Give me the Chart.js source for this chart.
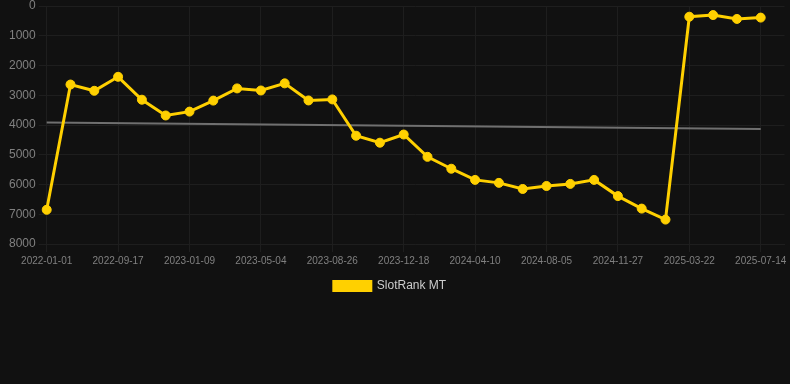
<!DOCTYPE html>
<html>
<head>
<meta charset="utf-8">
<script src="https://cdn.jsdelivr.net/npm/chart.js@4/dist/chart.umd.min.js"></script>
<style>
  html, body { margin: 0; padding: 0; background: #111111; }
  #wrap { position: relative; width: 790px; height: 302px; }
</style>
</head>
<body>
<div id="wrap"><canvas id="c"></canvas></div>
<script>
const categories = [
  "2022-01-01", "2022-07-03", "2022-08-10", "2022-09-17", "2022-10-25", "2022-12-02",
  "2023-01-09", "2023-02-16", "2023-03-26", "2023-05-04", "2023-06-11", "2023-07-19",
  "2023-08-26", "2023-10-03", "2023-11-10", "2023-12-18", "2024-01-25", "2024-03-03",
  "2024-04-10", "2024-05-18", "2024-06-27", "2024-08-05", "2024-09-12", "2024-10-20",
  "2024-11-27", "2025-01-04", "2025-02-11", "2025-03-22", "2025-04-29", "2025-06-06",
  "2025-07-14", "2025-08-21"
];
const slotRankValues = [
  6850, 2640, 2850, 2380, 3150, 3680,
  3550, 3180, 2770, 2840, 2600, 3175,
  3140, 4360, 4595, 4320, 5070, 5470,
  5845, 5945, 6150, 6050, 5980, 5845,
  6390, 6810, 7180, 360, 305, 435,
  390, null
];
const trendValues = [
  3920, null, null, null, null, null, null, null, null, null, null, null,
  null, null, null, null, null, null, null, null, null, null, null, null,
  null, null, null, null, null, null, 4135, null
];
const yTicks = { min: 0, max: 8000, step: 1000 };
const seriesName = "SlotRank MT";

const legendShift = {
  id: 'legendShift',
  afterLayout(chart) {
    if (chart.legend) {
      chart.legend.left -= 8;
      chart.legend.right -= 8;
    }
  }
};

new Chart(document.getElementById('c'), {
  type: 'line',
  data: {
    labels: categories,
    datasets: [
      {
        label: seriesName,
        data: slotRankValues,
        borderColor: '#FFD000',
        backgroundColor: '#FFD000',
        pointBackgroundColor: '#FFD000',
        pointBorderColor: '#FFD000',
        borderWidth: 3,
        pointRadius: 4.5,
        pointBorderWidth: 1,
        tension: 0,
        order: 1
      },
      {
        label: 'trend',
        data: trendValues,
        borderColor: '#707070',
        backgroundColor: '#707070',
        borderWidth: 2,
        pointRadius: 0,
        spanGaps: true,
        order: 2
      }
    ]
  },
  plugins: [legendShift],
  options: {
    responsive: true,
    maintainAspectRatio: false,
    animation: false,
    layout: { padding: { left: 6, right: 0, top: 0, bottom: 0 } },
    plugins: {
      legend: {
        position: 'bottom',
        labels: {
          color: '#cccccc',
          boxWidth: 37,
          boxHeight: 9,
          font: { family: 'Liberation Sans, Arial, sans-serif', size: 12 },
          filter: (item) => item.text === seriesName
        }
      },
      tooltip: { enabled: false }
    },
    scales: {
      x: {
        grid: { color: '#1e1e1e', tickLength: 8 },
        border: { color: '#1e1e1e' },
        ticks: {
          color: '#808080',
          maxRotation: 0,
          autoSkip: true,
          maxTicksLimit: 11,
          font: { family: 'Liberation Sans, Arial, sans-serif', size: 10 }
        }
      },
      y: {
        reverse: true,
        min: yTicks.min,
        max: yTicks.max,
        grid: { color: '#1e1e1e', tickLength: 8 },
        border: { color: '#1e1e1e' },
        afterFit: (s) => { s.paddingTop = 6; },
        ticks: {
          stepSize: yTicks.step,
          color: '#808080',
          font: { family: 'Liberation Sans, Arial, sans-serif', size: 12 },
          callback: (v) => String(v)
        }
      }
    }
  }
});
</script>
</body>
</html>
